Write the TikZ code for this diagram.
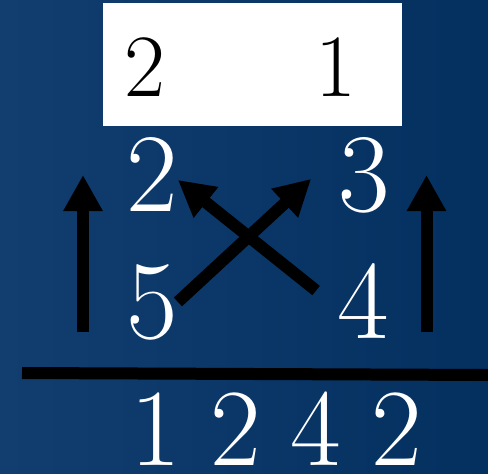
\documentclass[tikz,border=0pt]{standalone}
\usepackage{tikz}
\usetikzlibrary{arrows.meta,calc}
\definecolor{bgleft}{RGB}{17,62,111}
\definecolor{bgright}{RGB}{4,48,96}
\newcommand\resultfont{\fontsize{110}{110}\selectfont\spaceskip=30pt\relax}

\begin{document}
\begin{tikzpicture}[
    x=1pt, y=-1pt,
    digit/.style={text=white, font=\fontsize{112}{112}\selectfont, inner sep=0pt, anchor=base},
    topdigit/.style={text=black, font=\fontsize{89}{89}\selectfont, inner sep=0pt, anchor=base},
    arr/.style={-{Triangle[length=36pt, width=37pt]}, line width=12pt}
]
    \useasboundingbox (0,0) rectangle (488,474);
    \fill[left color=bgleft, right color=bgright] (0,0) rectangle (488,474);

    % white box on top
    \fill[white] (103,3) rectangle (402,126);
    \node[topdigit] (t2) at (144.5,96) {2};
    \node[topdigit] (t1) at (336,96) {1};

    % the four digits
    \node[digit] (two) at (152,211) {2};
    \node[digit] (three) at (364,211) {3};
    \node[digit] (five) at (152,338) {5};
    \node[digit] (four) at (363,338) {4};

    \coordinate (lbot) at (83,332);
    \coordinate (ltop) at (83,175);
    \coordinate (rbot) at (426.5,332);
    \coordinate (rtop) at (426.5,175);

    \draw[arr] (lbot) -- (ltop);
    \draw[arr] (rbot) -- (rtop);
    \draw[arr] (five.east) -- ($(three.west)+(-27,4)$);
    \draw[arr] ($(four.west)+(-21,-10)$) -- ($(two.east)+(0,6)$);

    % rule and result
    \coordinate (rulel) at (22,373);
    \coordinate (ruler) at (488,375);
    \draw[line width=12pt] (rulel) -- (ruler);
    \node[digit, font=\resultfont] (result) at (276,465) {1 2 4 2};
\end{tikzpicture}
\end{document}
